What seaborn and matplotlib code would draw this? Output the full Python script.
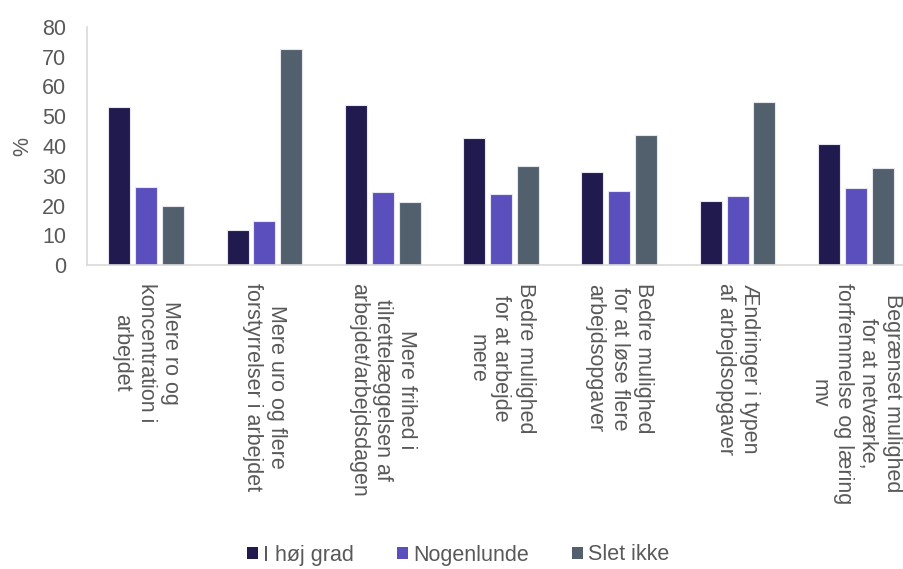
import matplotlib
matplotlib.use("Agg")
import matplotlib.pyplot as plt
import seaborn as sns
import pandas as pd
from matplotlib.patches import Patch

categories = [
    "Mere ro og\nkoncentration i\narbejdet",
    "Mere uro og flere\nforstyrrelser i arbejdet",
    "Mere frihed i\ntilrettelæggelsen af\narbejdet/arbejdsdagen",
    "Bedre mulighed\nfor at arbejde\nmere",
    "Bedre mulighed\nfor at løse flere\narbejdsopgaver",
    "Ændringer i typen\naf arbejdsopgaver",
    "Begrænset mulighed\nfor at netværke,\nforfremmelse og læring\nmv",
]
series = ["I høj grad", "Nogenlunde", "Slet ikke"]
i_hoej_grad = [53.1, 11.7, 53.7, 42.6, 31.2, 21.6, 40.6]
nogenlunde = [26.3, 14.8, 24.6, 23.8, 24.8, 23.1, 25.8]
slet_ikke = [19.9, 72.6, 21.1, 33.2, 43.7, 54.7, 32.6]
y_ticks = [0, 10, 20, 30, 40, 50, 60, 70, 80]
colors = ["#211a4f", "#5b4fbd", "#52606d"]

rows = []
for name, vals in zip(series, [i_hoej_grad, nogenlunde, slet_ikke]):
    for c, v in zip(categories, vals):
        rows.append({"cat": c, "series": name, "val": v})
df = pd.DataFrame(rows)

sns.set_theme(style="white")
plt.rcParams["font.family"] = ["Liberation Sans", "DejaVu Sans"]
text_color = "#595959"
fs = 15.5

fig = plt.figure(figsize=(9.04, 5.69), dpi=100)
ax = fig.add_axes([87 / 904, (569 - 265) / 569, 828 / 904, 238 / 569])

sns.barplot(data=df, x="cat", y="val", hue="series", order=categories,
            hue_order=series, palette=colors, saturation=1, width=0.68, gap=0.18,
            edgecolor="#e6e6f0", linewidth=0.8, ax=ax, errorbar=None)

ax.set_xlim(-0.5, 6.5)
ax.set_ylim(0, 80)
ax.set_yticks(y_ticks)
ax.set_yticklabels([str(t) for t in y_ticks], fontsize=fs, color=text_color)
ax.tick_params(axis="y", length=0, pad=15)
ax.tick_params(axis="x", length=0, pad=13)
ax.set_xticks(range(len(categories)))
ax.set_xticklabels(categories, rotation=-90, ha="center", va="top",
                   multialignment="center", fontsize=fs, color=text_color,
                   linespacing=1.2)
ax.set_xlabel("")
ax.set_ylabel("%", fontsize=fs, color=text_color, labelpad=6)

for s in ["top", "right"]:
    ax.spines[s].set_visible(False)
for s in ["left", "bottom"]:
    ax.spines[s].set_color("#d9d9d9")
    ax.spines[s].set_linewidth(1.2)

if ax.legend_ is not None:
    ax.legend_.remove()
handles = [Patch(facecolor=c, edgecolor="none") for c in colors]
fig.legend(handles, series, loc="center", bbox_to_anchor=(458 / 904, 1 - 555 / 569),
           ncol=3, frameon=False, fontsize=fs, handlelength=0.5, handleheight=0.5,
           handletextpad=0.25, columnspacing=2.0, labelcolor=text_color)

fig.savefig("out.png", dpi=100)
